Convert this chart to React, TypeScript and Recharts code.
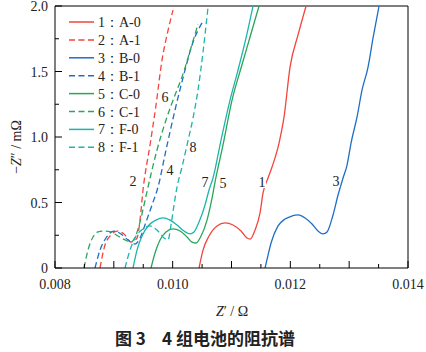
import React from 'react';
import { ComposedChart, Line, XAxis, YAxis, ReferenceLine, ReferenceDot, Legend } from 'recharts';

// x: Z' (Ω), y: -Z'' (mΩ)
const A0: [number, number][] = [[0.010448,0],[0.010516,0.137],[0.010618,0.244],[0.010754,0.321],[0.010890,0.344],[0.011026,0.328],[0.011162,0.282],[0.011264,0.229],[0.011315,0.221],[0.011400,0.290],[0.011485,0.420],[0.011536,0.573],[0.011621,0.687],[0.011689,0.771],[0.011808,0.954],[0.011893,1.153],[0.011995,1.534],[0.012131,1.779],[0.012267,2.0]];
const A1: [number, number][] = [[0.008765,0],[0.008850,0.176],[0.008935,0.244],[0.009054,0.282],[0.009173,0.260],[0.009292,0.198],[0.009394,0.229],[0.009445,0.366],[0.009496,0.595],[0.009615,0.939],[0.009717,1.244],[0.009819,1.588],[0.009904,1.779],[0.010006,1.969]];
const B0: [number, number][] = [[0.011570,0],[0.011621,0.099],[0.011672,0.191],[0.011791,0.321],[0.011910,0.374],[0.012029,0.397],[0.012131,0.405],[0.012250,0.382],[0.012369,0.336],[0.012471,0.282],[0.012556,0.260],[0.012624,0.275],[0.012726,0.405],[0.012811,0.557],[0.012896,0.687],[0.012964,0.786],[0.013032,0.954],[0.013134,1.153],[0.013219,1.359],[0.013321,1.534],[0.013406,1.756],[0.013508,2.0]];
const B1: [number, number][] = [[0.008680,0],[0.008765,0.137],[0.008867,0.229],[0.009003,0.282],[0.009122,0.260],[0.009241,0.214],[0.009360,0.183],[0.009445,0.229],[0.009547,0.351],[0.009649,0.481],[0.009751,0.618],[0.009887,0.901],[0.010040,1.206],[0.010210,1.511],[0.010329,1.702],[0.010516,1.885]];
const C0: [number, number][] = [[0.009632,0],[0.009700,0.115],[0.009785,0.214],[0.009887,0.275],[0.010006,0.298],[0.010125,0.282],[0.010244,0.237],[0.010329,0.198],[0.010397,0.191],[0.010482,0.244],[0.010584,0.366],[0.010669,0.534],[0.010720,0.656],[0.010856,0.939],[0.011009,1.282],[0.011162,1.527],[0.011315,1.763],[0.011468,2.0]];
const C1: [number, number][] = [[0.008493,0],[0.008561,0.137],[0.008646,0.237],[0.008731,0.275],[0.008833,0.282],[0.008952,0.275],[0.009071,0.244],[0.009190,0.214],[0.009292,0.198],[0.009377,0.252],[0.009445,0.351],[0.009513,0.481],[0.009581,0.618],[0.009734,0.901],[0.009887,1.130],[0.010040,1.321],[0.010159,1.458],[0.010295,1.656],[0.010431,1.863]];
const F0: [number, number][] = [[0.009326,0],[0.009394,0.137],[0.009479,0.244],[0.009598,0.328],[0.009717,0.366],[0.009836,0.382],[0.009955,0.366],[0.010074,0.328],[0.010193,0.282],[0.010295,0.260],[0.010363,0.275],[0.010448,0.351],[0.010550,0.481],[0.010618,0.595],[0.010686,0.687],[0.010822,0.977],[0.010975,1.282],[0.011111,1.511],[0.011247,1.756],[0.011366,2.0]];
const F1: [number, number][] = [[0.009190,0],[0.009275,0.137],[0.009377,0.244],[0.009496,0.298],[0.009615,0.321],[0.009734,0.290],[0.009853,0.229],[0.009921,0.214],[0.009972,0.328],[0.010023,0.481],[0.010074,0.618],[0.010159,0.771],[0.010244,0.939],[0.010346,1.145],[0.010431,1.359],[0.010516,1.649],[0.010601,1.992]];

const seriesNames = ['1：A-0', '2：A-1', '3：B-0', '4：B-1', '5：C-0', '6：C-1', '7：F-0', '8：F-1'];
const seriesData = [A0, A1, B0, B1, C0, C1, F0, F1];
const seriesColors = ['#F2453D', '#F2453D', '#1F6EC4', '#1F6EC4', '#2BA55A', '#2BA55A', '#1CB5AC', '#1CB5AC'];
const seriesDashed = [false, true, false, true, false, true, false, true];

const xTicks = [0.008, 0.0085, 0.009, 0.0095, 0.01, 0.0105, 0.011, 0.0115, 0.012, 0.0125, 0.013, 0.0135, 0.014];
const yTicks = [0, 0.25, 0.5, 0.75, 1, 1.25, 1.5, 1.75, 2];

const curveLabels = [
  { text: '1', x: 0.011519, y: 0.656 },
  { text: '2', x: 0.009326, y: 0.664 },
  { text: '3', x: 0.012777, y: 0.664 },
  { text: '4', x: 0.009955, y: 0.748 },
  { text: '5', x: 0.010856, y: 0.649 },
  { text: '6', x: 0.009870, y: 1.305 },
  { text: '7', x: 0.010550, y: 0.656 },
  { text: '8', x: 0.010346, y: 0.924 },
];

const SERIF = "'Liberation Serif', serif";
const serifStyle = { fontFamily: SERIF };
const DASH = '6 3.5';

const toPts = (arr: [number, number][]) => arr.map(([x, y]) => ({ x, y }));

const XTick = (props: any) => {
  const { x, y, payload } = props;
  const v = payload.value as number;
  const k = Math.round(v * 10000);
  const major = k % 10 === 0;
  const labeled = k % 20 === 0;
  return (
    <g>
      <line x1={x} y1={y} x2={x} y2={y - (major ? 7 : 4)} stroke="#000" strokeWidth={1} />
      {labeled && (
        <text x={x} y={y + 21} textAnchor="middle" style={serifStyle} fontSize={14} fill="#222">
          {v.toFixed(3)}
        </text>
      )}
    </g>
  );
};

const YTick = (props: any) => {
  const { x, y, payload } = props;
  const v = payload.value as number;
  const k = Math.round(v * 100);
  const major = k % 50 === 0;
  return (
    <g>
      <line x1={x} y1={y} x2={x + (major ? 7 : 4)} y2={y} stroke="#000" strokeWidth={1} />
      {major && (
        <text x={x - 7} y={y + 5} textAnchor="end" style={serifStyle} fontSize={14} fill="#222">
          {v === 0 ? '0' : v.toFixed(1)}
        </text>
      )}
    </g>
  );
};

const renderLegend = () => (
  <svg width={150} height={160} style={{ display: 'block' }}>
    {seriesNames.map((name, i) => {
      const cy = 22 + i * 17.9;
      return (
        <g key={name}>
          <line x1={69} x2={94} y1={cy} y2={cy} stroke={seriesColors[i]} strokeWidth={1.5}
            strokeDasharray={seriesDashed[i] ? DASH : undefined} />
          <text x={98} y={cy + 5} style={serifStyle} fontSize={14} fill="#222">{name}</text>
        </g>
      );
    })}
  </svg>
);

const LabelMark = ({ cx, cy, text }: { cx: number; cy: number; text: string }) => (
  <g>
    <rect x={cx - 4} y={cy - 7} width={8} height={13} fill="#fff" />
    <text x={cx} y={cy + 5} textAnchor="middle" style={serifStyle} fontSize={14} fill="#222">{text}</text>
  </g>
);

export default function App() {
  return (
    <div style={{ position: 'absolute', left: 0, top: 0, width: 426, height: 352, background: '#fff', fontFamily: SERIF }}>
      <ComposedChart width={426} height={352} margin={{ top: 6, right: 18, bottom: 54, left: 5 }}>
        <XAxis dataKey="x" type="number" domain={[0.008, 0.014]} ticks={xTicks} interval={0}
          allowDataOverflow tickSize={0} tickMargin={0} tickLine={false} height={30}
          axisLine={{ stroke: '#000', strokeWidth: 1 }} tick={<XTick />} />
        <YAxis type="number" domain={[0, 2]} ticks={yTicks} interval={0} allowDataOverflow
          tickSize={0} tickMargin={0} tickLine={false} width={50}
          axisLine={{ stroke: '#000', strokeWidth: 1 }} tick={<YTick />} />
        <ReferenceLine y={2} stroke="#000" strokeWidth={1} />
        <ReferenceLine x={0.014} stroke="#000" strokeWidth={1} />
        {seriesData.map((d, i) => (
          <Line key={seriesNames[i]} data={toPts(d)} dataKey="y" name={seriesNames[i]} type="monotone"
            stroke={seriesColors[i]} strokeWidth={1.3} dot={false} activeDot={false}
            strokeDasharray={seriesDashed[i] ? DASH : undefined} isAnimationActive={false} />
        ))}
        {curveLabels.map((l) => (
          <ReferenceDot key={l.text} x={l.x} y={l.y} r={1} ifOverflow="visible"
            shape={(p: any) => <LabelMark cx={p.cx} cy={p.cy} text={l.text} />} />
        ))}
        <Legend layout="vertical" align="center" verticalAlign="middle" content={renderLegend}
          wrapperStyle={{ left: 0, top: 0, width: 150, height: 160 }} />
      </ComposedChart>
      <svg width={426} height={352} style={{ position: 'absolute', left: 0, top: 0, pointerEvents: 'none' }}>
        <text transform="translate(21,147) rotate(-90)" textAnchor="middle" style={serifStyle} fontSize={14} fill="#222">
          <tspan>−</tspan><tspan fontStyle="italic">Z</tspan><tspan>″ / mΩ</tspan>
        </text>
        <text x={232} y={316} textAnchor="middle" style={serifStyle} fontSize={14} fill="#222">
          <tspan fontStyle="italic">Z</tspan><tspan>′ / Ω</tspan>
        </text>
        <text y={345} style={{ fontFamily: "'Noto Sans CJK SC', sans-serif" }} fontSize={17} fontWeight="bold" fill="#222">
          <tspan x={115}>图 3</tspan>
          <tspan x={162}>4 组电池的阻抗谱</tspan>
        </text>
      </svg>
    </div>
  );
}
